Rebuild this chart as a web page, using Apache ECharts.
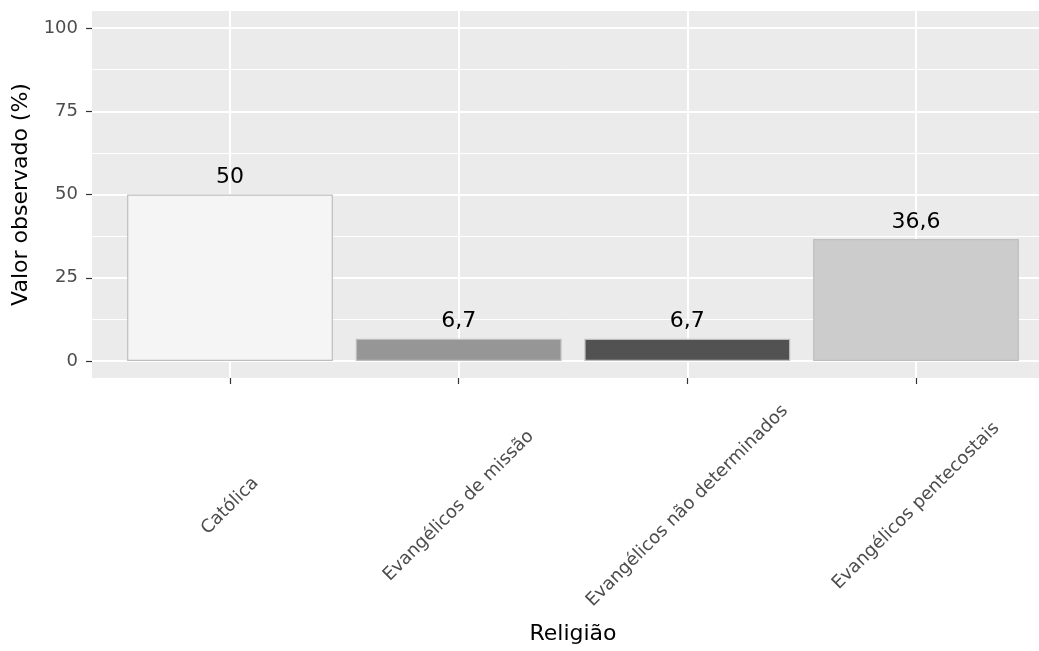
<!DOCTYPE html>
<html>
<head>
<meta charset="utf-8">
<script src="https://cdn.jsdelivr.net/npm/echarts@6/dist/echarts.min.js"></script>
<style>
html,body{margin:0;padding:0;background:#fff;}
#chart{width:1039px;height:651px;}
</style>
</head>
<body>
<div id="chart"></div>
<script>
const categories = ['Católica', 'Evangélicos de missão', 'Evangélicos não determinados', 'Evangélicos pentecostais'];
const values = [50, 6.7, 6.7, 36.6];
const barColors = ['#F5F5F5', '#969696', '#525252', '#CCCCCC'];
const yTicks = [0, 25, 50, 75, 100];
const yTitle = 'Valor observado (%)';
const xTitle = 'Religião';

const FONT = 'DejaVu Sans';
const chart = echarts.init(document.getElementById('chart'), null, {renderer: 'canvas'});

const option = {
  backgroundColor: '#FFFFFF',
  animation: false,
  grid: [
    // panel background
    {left: 92, right: 0, top: 11, bottom: 273, show: true, backgroundColor: '#EBEBEB', borderWidth: 0},
    // y axis + horizontal gridlines (0..100)
    {left: 92, right: 0, top: 28, bottom: 290},
    // x ticks, labels, vertical gridlines at category centres
    {left: 230, right: 123, top: 11, bottom: 273},
    // bars
    {left: 115.67, right: 8.67, top: 28, bottom: 290}
  ],
  xAxis: [
    {gridIndex: 0, type: 'value', show: false},
    {gridIndex: 1, type: 'value', show: false},
    {
      gridIndex: 2, type: 'category', data: categories, boundaryGap: false,
      axisLine: {show: false},
      axisTick: {show: true, length: 6, lineStyle: {color: '#333333', width: 1.2}},
      splitLine: {show: true, lineStyle: {color: '#FFFFFF', width: 2}},
      axisLabel: {
        rotate: 45, align: 'center', verticalAlign: 'middle', margin: 128,
        color: '#4D4D4D', fontSize: 18, fontFamily: FONT, interval: 0
      },
      name: xTitle, nameLocation: 'middle', nameGap: 256,
      nameTextStyle: {color: '#000000', fontSize: 22, fontFamily: FONT, verticalAlign: 'middle'}
    },
    {gridIndex: 3, type: 'category', data: categories, show: false}
  ],
  yAxis: [
    {gridIndex: 0, type: 'value', show: false},
    {
      gridIndex: 1, type: 'value', min: 0, max: 100, interval: 25,
      axisLine: {show: false},
      axisTick: {show: true, length: 6, lineStyle: {color: '#333333', width: 1.2}},
      axisLabel: {
        margin: 14, color: '#4D4D4D', fontSize: 18, fontFamily: FONT,
        customValues: yTicks
      },
      splitLine: {show: true, lineStyle: {color: '#FFFFFF', width: 2}},
      minorTick: {show: false, splitNumber: 2},
      minorSplitLine: {show: true, lineStyle: {color: '#FFFFFF', width: 1}},
      name: yTitle, nameLocation: 'middle', nameGap: 65, nameRotate: 90,
      nameTextStyle: {color: '#000000', fontSize: 22, fontFamily: FONT, verticalAlign: 'middle'}
    },
    {gridIndex: 2, type: 'value', show: false},
    {gridIndex: 3, type: 'value', min: 0, max: 100, show: false}
  ],
  series: [{
    type: 'bar',
    xAxisIndex: 3, yAxisIndex: 3,
    barWidth: '90%',
    data: values.map((v, i) => ({
      value: v,
      itemStyle: {color: barColors[i], borderColor: '#BEBEBE', borderWidth: 1.2}
    })),
    label: {
      show: true, position: 'top', distance: 6,
      color: '#000000', fontSize: 22, fontFamily: FONT,
      formatter: p => String(p.value).replace('.', ',')
    },
    z: 5
  }]
};
chart.setOption(option);
</script>
</body>
</html>
